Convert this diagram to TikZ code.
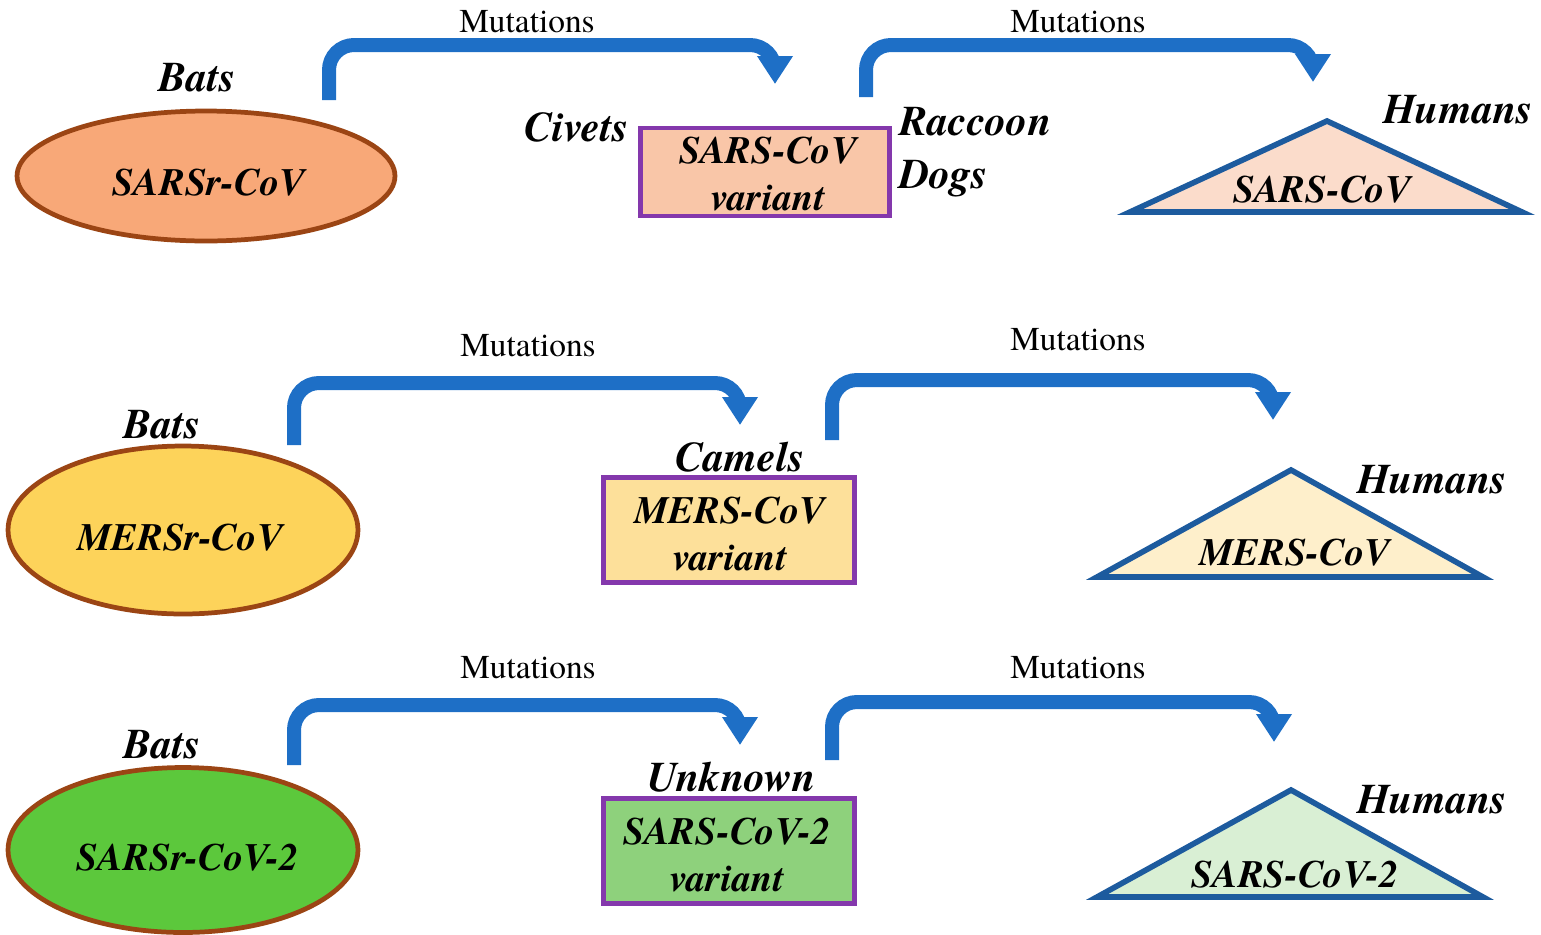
\documentclass[tikz,border=0pt]{standalone}
\usepackage{fontspec}
\setmainfont{texgyretermes}[Extension=.otf, UprightFont=*-regular,
  BoldFont=*-bold, ItalicFont=*-italic, BoldItalicFont=*-bolditalic]
\usetikzlibrary{arrows.meta,positioning,shapes.geometric}
\definecolor{mutblue}{HTML}{1E6FC6}
\definecolor{rimbrown}{HTML}{9B4514}
\definecolor{boxpurple}{HTML}{8438AC}
\definecolor{tribl}{HTML}{1D5B9E}
\definecolor{sarsA}{HTML}{F8A878}
\definecolor{sarsB}{HTML}{F9C6A8}
\definecolor{sarsC}{HTML}{FBDCCB}
\definecolor{mersA}{HTML}{FDD35A}
\definecolor{mersB}{HTML}{FDE09A}
\definecolor{mersC}{HTML}{FEEFCB}
\definecolor{covA}{HTML}{5CC83C}
\definecolor{covB}{HTML}{8ED17C}
\definecolor{covC}{HTML}{D9EFD4}
\tikzset{
  host/.style={font=\fontsize{24}{30}\selectfont\bfseries\itshape},
  virus/.style={font=\fontsize{22}{27}\selectfont\bfseries\itshape, align=center},
  mutlabel/.style={font=\fontsize{19}{20}\selectfont},
  mutarrow/.style={mutblue, line width=0.28cm, rounded corners=0.5cm,
    -{Triangle[length=0.56cm,width=0.68cm]}},
  reservoir/.style={ellipse, draw=rimbrown, line width=2.7pt, inner sep=0pt},
  variantbox/.style={rectangle, draw=boxpurple, line width=2.8pt, inner sep=0pt},
  humantri/.style={draw=tribl, line width=3.2pt, line join=miter},
}
\begin{document}
\begin{tikzpicture}[x=0.02cm,y=-0.02cm]
\useasboundingbox (0,0) rectangle (1541,934);

% reservoir hosts
\node[reservoir, fill=sarsA, minimum width=7.56cm, minimum height=2.6cm]  (bat1) at (206,176) {};
\node[reservoir, fill=mersA, minimum width=7.0cm, minimum height=3.36cm]  (bat2) at (183,530) {};
\node[reservoir, fill=covA,  minimum width=7.0cm, minimum height=3.3cm]   (bat3) at (183,850) {};
\node[virus] (batv1) at (209,183) {SARSr-CoV};
\node[virus] (batv2) at (180,538) {MERSr-CoV};
\node[virus] (batv3) at (188,858) {SARSr-CoV-2};
\node[host] (batl1) at (197,78)  {Bats};
\node[host] (batl2) at (162,425) {Bats};
\node[host] (batl3) at (162,745) {Bats};

% intermediate hosts
\node[variantbox, fill=sarsB, minimum width=4.98cm, minimum height=1.76cm] (var1) at (765,172) {};
\node[variantbox, fill=mersB, minimum width=5.02cm, minimum height=2.1cm]  (var2) at (729,530) {};
\node[variantbox, fill=covB,  minimum width=5.02cm, minimum height=2.1cm]  (var3) at (729,851) {};
\node[virus] (varv1) at (768,174) {SARS-CoV\\variant};
\node[virus] (varv2) at (730,534) {MERS-CoV\\variant};
\node[virus] (varv3) at (727,855) {SARS-CoV-2\\variant};
\node[host, anchor=east] (civ) at (635,127) {Civets};
\node[host, anchor=west, align=left] (rac) at (893,152) {Raccoon\\Dogs};
\node[host] (cam) at (740,457) {Camels};
\node[host] (unk) at (732,777) {Unknown};

% humans
\coordinate (T1) at (1327,121);
\coordinate (L1) at (1130,212);
\coordinate (R1) at (1522,212);
\coordinate (T2) at (1291,470);
\coordinate (L2) at (1097,577);
\coordinate (R2) at (1483,577);
\coordinate (T3) at (1291,790);
\coordinate (L3) at (1097,897);
\coordinate (R3) at (1483,897);
\filldraw[humantri, fill=sarsC] (T1) -- (R1) -- (L1) -- cycle;
\filldraw[humantri, fill=mersC] (T2) -- (R2) -- (L2) -- cycle;
\filldraw[humantri, fill=covC]  (T3) -- (R3) -- (L3) -- cycle;
\node[virus] (humv1) at (1322,190) {SARS-CoV};
\node[virus] (humv2) at (1295,553) {MERS-CoV};
\node[virus] (humv3) at (1295,875) {SARS-CoV-2};
\foreach \n/\p in {1/{(1458,110)},2/{(1432,480)},3/{(1432,800)}}
{
    \node[host] (huml\n) at \p {Humans};
}

% mutation arrows
\coordinate (a1s) at (329,100);
\coordinate (a1m) at (550,45);
\coordinate (a1e) at (775,84);
\coordinate (b1s) at (866,97);
\coordinate (b1m) at (1090,45);
\coordinate (b1e) at (1313,82);
\coordinate (a2s) at (294,445);
\coordinate (a2m) at (520,383);
\coordinate (a2e) at (740,425);
\coordinate (b2s) at (832,440);
\coordinate (b2m) at (1050,380);
\coordinate (b2e) at (1273,420);
\coordinate (a3s) at (294,765);
\coordinate (a3m) at (520,705);
\coordinate (a3e) at (740,745);
\coordinate (b3s) at (832,760);
\coordinate (b3m) at (1050,702);
\coordinate (b3e) at (1274,742);
\foreach \a in {a1,b1,a2,b2,a3,b3}
{
    \draw[mutarrow] (\a s) |- (\a m) -| (\a e);
}
\node[mutlabel] (mut1) at (527,22)  {Mutations};
\node[mutlabel] (mut2) at (1078,22) {Mutations};
\node[mutlabel] (mut3) at (528,346) {Mutations};
\node[mutlabel] (mut4) at (1078,340) {Mutations};
\node[mutlabel] (mut5) at (528,668) {Mutations};
\node[mutlabel] (mut6) at (1078,668) {Mutations};
\end{tikzpicture}
\end{document}
